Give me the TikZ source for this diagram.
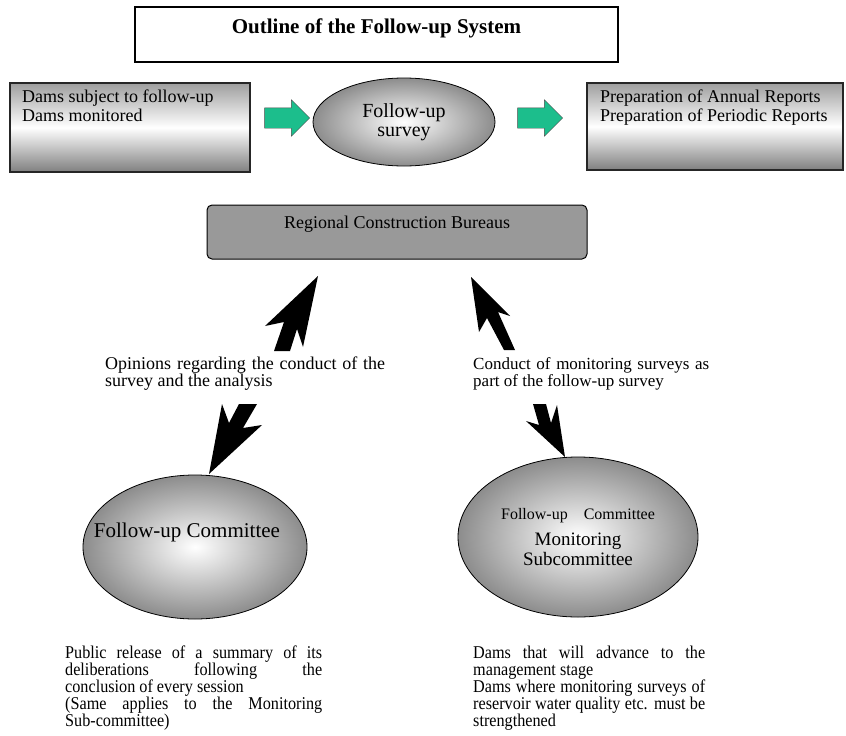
\documentclass[tikz,border=0pt]{standalone}
\usepackage{fontspec}
\setmainfont{Liberation Serif}
\newfontfamily\narrowserif[FakeStretch=0.9]{Liberation Serif}
\usetikzlibrary{positioning, shapes.geometric, shapes.arrows}
\definecolor{arrowgreen}{RGB}{28,190,140}
\tikzset{
    bigbox/.style={draw, line width=1.6pt, minimum width=483pt, minimum height=55pt},
    shadebox/.style={draw=black!85, line width=1.6pt, top color=black!38, bottom color=black!50, middle color=white, minimum width=240pt, minimum height=89pt},
    roundbox/.style={draw, line width=1pt, rounded corners=5pt, fill=black!40, minimum width=380pt, minimum height=54pt},
    bigellipse/.style={draw, ellipse, line width=0.8pt, inner color=white, outer color=black!45, inner sep=0pt},
    greenarrow/.style={draw=black!70, single arrow, fill=arrowgreen, inner xsep=0pt, inner ysep=10pt, minimum height=45pt, single arrow head extend=8pt},
    plain/.style={font=\fontsize{18}{19}\selectfont, inner sep=0pt, align=left},
    note/.style={font=\fontsize{18}{17}\selectfont, inner sep=0pt, align=justify, anchor=north west},
    narrow/.style={font=\fontsize{18}{17}\narrowserif}
}

\begin{document}
\begin{tikzpicture}[x=1pt, y=-1pt]
	\useasboundingbox (0,0) rectangle (846,736);
	% heading
	\node(Title)[bigbox] at (376.5,34.5) {};
	\node(TitleText)[font=\fontsize{21}{24}\selectfont\bfseries] at (376.5,28) {Outline of the Follow-up System};
	% top row: input, survey, output
	\node(Dams)[shadebox] at (130,127.5) {};
	\node(DamsText)[plain, anchor=north west] at (22,90) {Dams subject to follow-up\\Dams monitored};
	\node(ToSurvey)[greenarrow] at (282,118) {};
	\node(Survey)[bigellipse, minimum width=182pt, minimum height=88pt, align=center, font=\fontsize{20}{19}\selectfont] at (404,122) {Follow-up\\survey};
	\node(ToReports)[greenarrow] at (535,118) {};
	\node(Reports)[shadebox, minimum width=256pt, minimum height=87pt] at (715,126.5) {};
	\node(ReportsText)[plain, anchor=north west] at (600,90) {Preparation of Annual Reports\\Preparation of Periodic Reports};
	% bureaus
	\node(Bureaus)[roundbox] at (397,232) {};
	\node(BureausText)[plain] at (397,224) {Regional Construction Bureaus};
	% black arrows
	\fill (318,276) -- (303,347) -- (297,329) -- (290,351) -- (274,351) -- (284,322) -- (265,326) -- cycle;
	\fill (471,277) -- (510,316) -- (498,312) -- (515,350) -- (504,350) -- (487,318) -- (479,332) -- cycle;
	\fill (209,474) -- (222,404) -- (229,423) -- (239,404) -- (257,404) -- (243,428) -- (262,425) -- cycle;
	\fill (565,457) -- (526,421) -- (539,425) -- (533,404) -- (546,404) -- (551,423) -- (557,405) -- cycle;
	\node(Opinions)[note, text width=280pt] at (105,357) {Opinions regarding the conduct of the\linebreak survey and the analysis};
	\node(Conduct)[note, text width=236pt, font=\fontsize{17}{17}\selectfont] at (473,357) {Conduct of monitoring surveys as\linebreak part of the follow-up survey};
	% committees
	\node(Committee)[bigellipse, minimum width=224pt, minimum height=144pt] at (195,547) {};
	\node(CommitteeText)[font=\fontsize{21}{21}\selectfont] at (187,532) {Follow-up Committee};
	\node(Subcommittee)[bigellipse, minimum width=240pt, minimum height=160pt, align=center, font=\fontsize{19}{20}\selectfont] at (578,537) {{\fontsize{16}{16}\selectfont Follow-up\quad Committee}\\[6pt]Monitoring\\Subcommittee};
	\node(Release)[note, narrow, text width=257pt] at (65,646) {Public release of a summary of its\linebreak deliberations following the\linebreak conclusion of every session\\(Same applies to the Monitoring\linebreak Sub-committee)};
	\node(Advance)[note, narrow, text width=232pt] at (473,646) {Dams that will advance to the\linebreak management stage\\Dams where monitoring surveys of\linebreak reservoir water quality etc. must be\linebreak strengthened};
\end{tikzpicture}
\end{document}
